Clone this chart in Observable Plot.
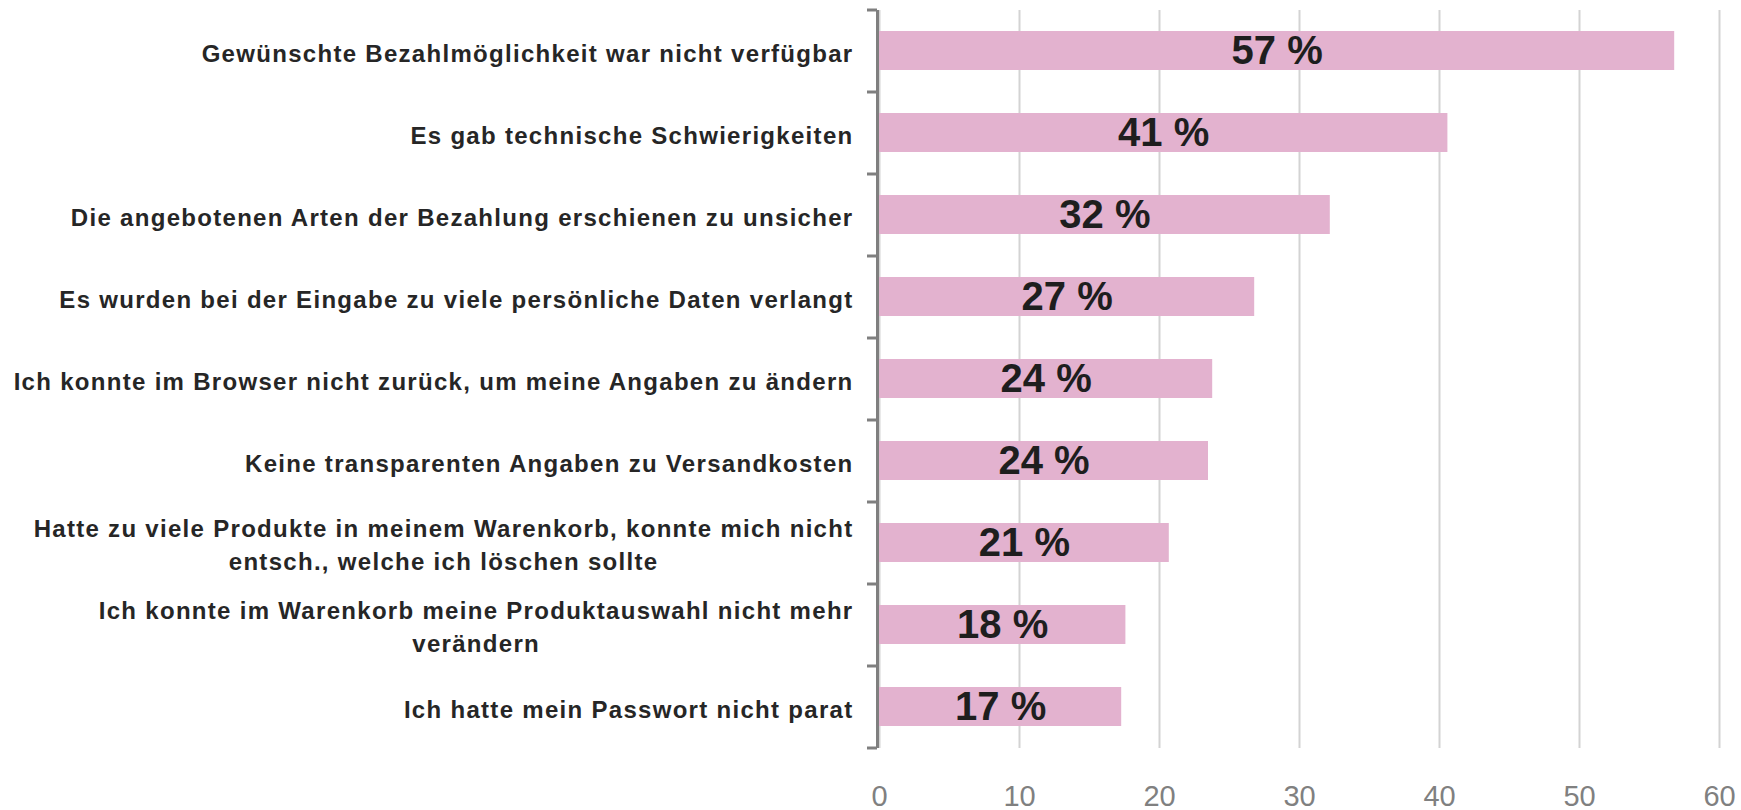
<!DOCTYPE html>
<html><head><meta charset="utf-8">
<script src="https://cdn.jsdelivr.net/npm/d3@7"></script>
<script src="https://cdn.jsdelivr.net/npm/@observablehq/plot@0.6"></script>
<style>body{margin:0;background:#fff;} .ylab text{letter-spacing:1.3px;}</style>
</head><body><div id="chart"></div>
<script>
const categories = [
  "Gewünschte Bezahlmöglichkeit war nicht verfügbar",
  "Es gab technische Schwierigkeiten",
  "Die angebotenen Arten der Bezahlung erschienen zu unsicher",
  "Es wurden bei der Eingabe zu viele persönliche Daten verlangt",
  "Ich konnte im Browser nicht zurück, um meine Angaben zu ändern",
  "Keine transparenten Angaben zu Versandkosten",
  "Hatte zu viele Produkte in meinem Warenkorb, konnte mich nicht\nentsch., welche ich löschen sollte",
  "Ich konnte im Warenkorb meine Produktauswahl nicht mehr\nverändern",
  "Ich hatte mein Passwort nicht parat"
];
const values = [56.8, 40.6, 32.2, 26.8, 23.8, 23.5, 20.7, 17.6, 17.3];
const valueLabels = ["57 %", "41 %", "32 %", "27 %", "24 %", "24 %", "21 %", "18 %", "17 %"];
const xTicks = [0, 10, 20, 30, 40, 50, 60];

const data = categories.map((c, i) => ({category: c, value: values[i], label: valueLabels[i]}));
const W = 1741, H = 810, mTop = 10, mBottom = 62, mLeft = 879, mRight = 22;
const step = (H - mTop - mBottom) / categories.length;

const chart = Plot.plot({
  width: W, height: H,
  marginTop: mTop, marginBottom: mBottom, marginLeft: mLeft, marginRight: mRight,
  style: {fontFamily: "'Liberation Sans', Arial, sans-serif", background: "#fff", overflow: "visible"},
  x: {domain: [0, 60], axis: null, label: null},
  y: {domain: categories, axis: null, label: null, paddingInner: 0.52, paddingOuter: 0.26},
  marks: [
    Plot.gridX(xTicks, {stroke: "#d3d3d3", strokeOpacity: 1, strokeWidth: 2}),
    Plot.barX(data, {x: "value", y: "category", fill: "#e3b2cf"}),
    Plot.ruleX([0], {stroke: "#7f7f7f", strokeWidth: 3, dx: -2}),
    Plot.ruleY(categories, {y: d => d, x1: 0, x2: 0, insetLeft: -10, dx: -2, dy: -step / 2, stroke: "#7f7f7f", strokeWidth: 3}),
    Plot.ruleY([categories[categories.length - 1]], {y: d => d, x1: 0, x2: 0, insetLeft: -10, dx: -2, dy: step / 2, stroke: "#7f7f7f", strokeWidth: 3}),
    Plot.text(data, {x: d => d.value / 2, y: "category", text: "label", fontSize: 40, fontWeight: "bold", fill: "#1e1e1e"}),
    Plot.text(categories, {x: 0, y: d => d, text: d => d, textAnchor: "end", dx: -26, fontSize: 24, fontWeight: "bold", fill: "#262626", lineHeight: 1.38, className: "ylab"}),
    Plot.axisX(xTicks, {tickSize: 0, tickPadding: 37, fontSize: 29, fill: "#808080", color: "#808080", label: null})
  ]
});
document.getElementById("chart").appendChild(chart);
// center multi-line category labels within their right-aligned block
chart.querySelectorAll(".ylab text").forEach(t => {
  const spans = t.querySelectorAll("tspan");
  if (spans.length > 1) {
    const w = Math.max(...Array.from(spans, s => s.getComputedTextLength()));
    t.setAttribute("text-anchor", "middle");
    spans.forEach(s => s.setAttribute("x", -w / 2));
  }
});
</script>
</body></html>
